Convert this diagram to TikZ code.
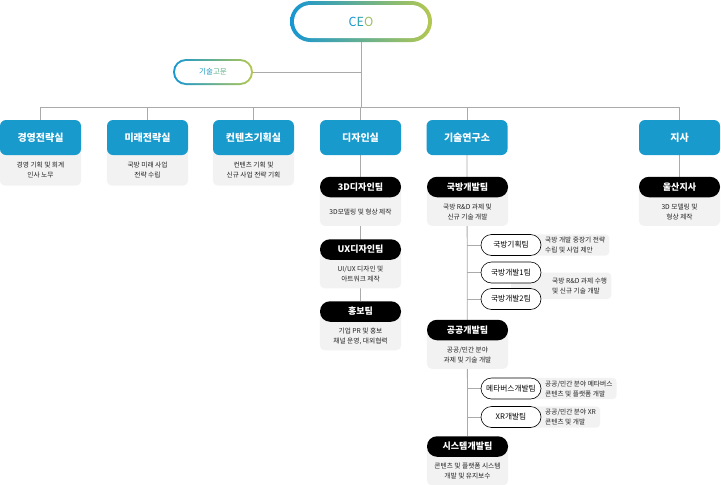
\documentclass[tikz,border=0pt]{standalone}
\usepackage{fontspec}
\setmainfont{Noto Sans CJK KR}
\usepackage{xcolor}
\usepackage{tikz}
\usetikzlibrary{positioning, fit, backgrounds}

\definecolor{deptblue}{RGB}{24,154,204}
\definecolor{ceoblue}{RGB}{22,150,210}
\definecolor{ceoteal}{RGB}{40,160,175}
\definecolor{ceogreen}{RGB}{180,200,80}
\definecolor{panelgray}{RGB}{242,242,242}
\definecolor{linegray}{RGB}{170,170,170}
\definecolor{desctext}{RGB}{35,35,35}

\newcommand{\setfs}[2]{\fontsize{#1}{#2}\selectfont}

\begin{document}
\begin{tikzpicture}[
    x=1pt, y=-1pt,
    line/.style={draw=linegray, line width=0.8pt},
    ring/.style={left color=ceoblue, middle color=ceoteal, right color=ceogreen, inner sep=0pt},
    hole/.style={fill=white, inner sep=0pt},
    dept/.style={fill=deptblue, text=white, rounded corners=6pt, minimum width=81pt, minimum height=35pt, inner sep=0pt, font=\bfseries\setfs{10}{12}},
    desc/.style={text=desctext, minimum width=81pt, minimum height=30pt, inner sep=0pt, align=center, font=\setfs{6.7}{10}},
    tdesc/.style={desc, minimum height=28pt},
    team/.style={fill=black, text=white, rounded corners=10pt, minimum width=81pt, minimum height=20.5pt, inner sep=0pt, font=\bfseries\setfs{9}{10}},
    sub/.style={draw=black, line width=0.6pt, fill=white, rounded corners=10.5pt, minimum width=60pt, minimum height=21pt, inner sep=0pt, font=\setfs{7.7}{9}},
    note/.style={text=desctext, align=left, inner xsep=4pt, inner ysep=0pt, minimum height=21pt, anchor=west, font=\setfs{6.7}{10}},
    panel/.style={fill=panelgray, rounded corners=5pt, inner sep=0pt},
]
    \useasboundingbox (0,0) rectangle (721,485);

    % top
    \node[ring, minimum width=142pt, minimum height=41pt, rounded corners=20.5pt] (ceoring) at (361,21.5) {};
    \node[hole, minimum width=134pt, minimum height=33pt, rounded corners=16.5pt, font=\setfs{12.5}{12}] (ceo) at (ceoring) {\textcolor{ceoblue}{C}\textcolor{ceoteal}{E}\textcolor{ceogreen!80!ceoteal}{O}};
    \node[ring, minimum width=80pt, minimum height=26pt, rounded corners=13pt] (advring) at (213,72) {};
    \node[hole, minimum width=76pt, minimum height=22pt, rounded corners=11pt, font=\setfs{7.5}{9}] (adv) at (advring) {\textcolor{ceoblue!70!ceoteal}{기술}\textcolor{ceoteal!60!ceogreen}{고문}};

    \coordinate (busl) at (40.5,107);
    \coordinate (busr) at (679.5,107);

    % departments
    \node[dept] (mgmt) at (40.5,137.5) {경영전략실};
    \node[dept] (future) at (147.5,137.5) {미래전략실};
    \node[dept] (content) at (253.5,137.5) {컨텐츠기획실};
    \node[dept] (design) at (360.5,137.5) {디자인실};
    \node[dept] (lab) at (467,137.5) {기술연구소};
    \node[dept] (branch) at (679.5,137.5) {지사};

    \node[desc, below=0pt of mgmt] (mgmtdesc) {경영 기획 및 회계\\인사 노무};
    \node[desc, below=0pt of future] (futuredesc) {국방 미래 사업\\전략 수립};
    \node[desc, below=0pt of content] (contentdesc) {컨텐츠 기획 및\\신규 사업 전략 기획};

    % design teams
    \node[team] (t3d) at (360.5,187) {3D디자인팀};
    \node[tdesc, below=0pt of t3d] (t3ddesc) {3D모델링 및 형상 제작};
    \node[team] (ux) at (360.5,249.5) {UX디자인팀};
    \node[tdesc, below=0pt of ux] (uxdesc) {UI/UX 디자인 및\\아트워크 제작};
    \node[team] (promo) at (360.5,311.5) {홍보팀};
    \node[tdesc, below=0pt of promo] (promodesc) {기업 PR 및 홍보\\채널 운영, 대외협력};

    % lab teams
    \node[team] (defense) at (467.5,187) {국방개발팀};
    \node[tdesc, below=0pt of defense] (defensedesc) {국방 R\&D 과제 및\\신규 기술 개발};
    \node[sub] (plan) at (511,245) {국방기획팀};
    \node[note] (plannote) at (541,245) {국방 개발 중장기 전략\\수립 및 사업 제안};
    \node[sub] (dev1) at (511,272.5) {국방개발1팀};
    \node[sub] (dev2) at (511,299) {국방개발2팀};
    \node[note, minimum height=23pt] (devnote) at (548,285.5) {국방 R\&D 과제 수행\\및 신규 기술 개발};

    \node[team] (public) at (467.5,330) {공공개발팀};
    \node[tdesc, below=0pt of public] (publicdesc) {공공/민간 분야\\과제 및 기술 개발};
    \node[sub] (meta) at (511,388.5) {메타버스개발팀};
    \node[note] (metanote) at (541,388.5) {공공/민간 분야 메타버스\\콘텐츠 및 플랫폼 개발};
    \node[sub] (xr) at (511,417) {XR개발팀};
    \node[note] (xrnote) at (541,417) {공공/민간 분야 XR\\콘텐츠 및 개발};

    \node[team] (sys) at (467.5,446.5) {시스템개발팀};
    \node[tdesc, below=0pt of sys] (sysdesc) {콘텐츠 및 플랫폼 시스템\\개발 및 유지보수};

    % branch
    \node[team] (ulsan) at (679.5,187) {울산지사};
    \node[tdesc, below=0pt of ulsan] (ulsandesc) {3D 모델링 및\\형상 제작};

    \begin{scope}[on background layer]
        % connectors
        \draw[line] (ceoring.south) -- (ceoring.south |- busl);
        \draw[line] (advring.east) -- (advring.east -| ceoring.south);
        \draw[line] (busl) -- (busr);
        \draw[line] (mgmt.north) -- (mgmt.north |- busl);
        \draw[line] (future.north) -- (future.north |- busl);
        \draw[line] (content.north) -- (content.north |- busl);
        \draw[line] (design.north) -- (design.north |- busl);
        \draw[line] (lab.north) -- (lab.north |- busl);
        \draw[line] (branch.north) -- (branch.north |- busl);
        \draw[line] (design.south) -- (promo.north);
        \draw[line] (lab.south) -- (sys.north);
        \draw[line] (branch.south) -- (ulsan.north);
        \draw[line] (plan.west) -- (plan.west -| lab.south);
        \draw[line] (dev1.west) -- (dev1.west -| lab.south);
        \draw[line] (dev2.west) -- (dev2.west -| lab.south);
        \draw[line] (meta.west) -- (meta.west -| lab.south);
        \draw[line] (xr.west) -- (xr.west -| lab.south);

        % gray panels
        \node[panel, fit=(mgmt.center)(mgmtdesc)] {};
        \node[panel, fit=(future.center)(futuredesc)] {};
        \node[panel, fit=(content.center)(contentdesc)] {};
        \node[panel, fit=(t3d.center)(t3ddesc)] {};
        \node[panel, fit=(ux.center)(uxdesc)] {};
        \node[panel, fit=(promo.center)(promodesc)] {};
        \node[panel, fit=(defense.center)(defensedesc)] {};
        \node[panel, fit=(public.center)(publicdesc)] {};
        \node[panel, fit=(sys.center)(sysdesc)] {};
        \node[panel, fit=(ulsan.center)(ulsandesc)] {};
        \node[panel, rounded corners=4pt, fit=(plan.center)(plannote)] {};
        \node[panel, rounded corners=4pt, fit=(dev1.center)(dev2.center)(devnote)] {};
        \node[panel, rounded corners=4pt, fit=(meta.center)(metanote)] {};
        \node[panel, rounded corners=4pt, fit=(xr.center)(xrnote)] {};
    \end{scope}
\end{tikzpicture}
\end{document}
